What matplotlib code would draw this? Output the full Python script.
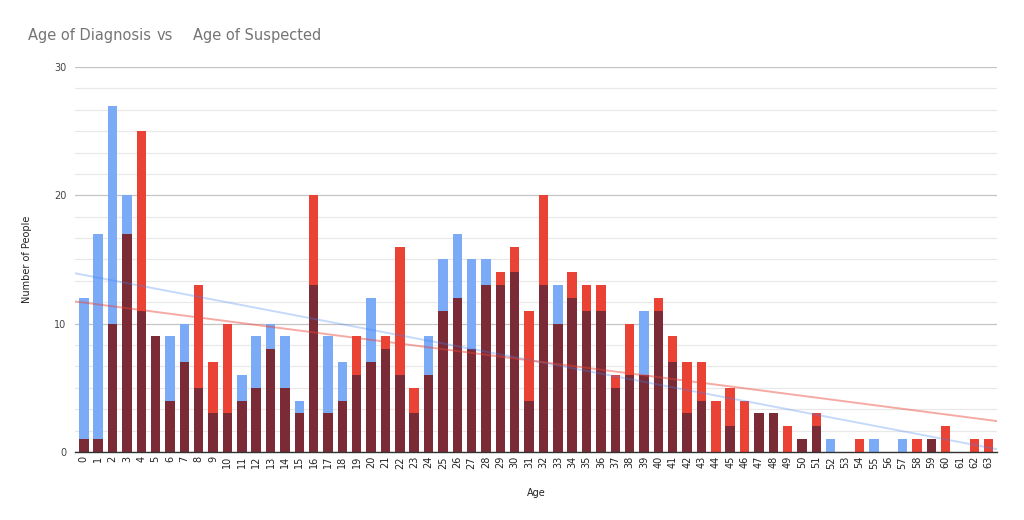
import numpy as np
import matplotlib
matplotlib.use("Agg")
import matplotlib.pyplot as plt
from matplotlib.ticker import MultipleLocator

ages = list(range(64))
diagnosis = [12, 17, 27, 20, 11, 9, 9, 10, 5, 3, 3, 6, 9, 10, 9, 4, 13, 9, 7, 6,
             12, 8, 6, 3, 9, 15, 17, 15, 15, 13, 14, 4, 13, 13, 12, 11, 11, 5, 6, 11,
             11, 7, 3, 4, 0, 2, 0, 3, 3, 0, 1, 2, 1, 0, 0, 1, 0, 1, 0, 1,
             0, 0, 0, 0]
suspected = [1, 1, 10, 17, 25, 9, 4, 7, 13, 7, 10, 4, 5, 8, 5, 3, 20, 3, 4, 9,
             7, 9, 16, 5, 6, 11, 12, 8, 13, 14, 16, 11, 20, 10, 14, 13, 13, 6, 10, 6,
             12, 9, 7, 7, 4, 5, 4, 3, 3, 2, 1, 3, 0, 0, 1, 0, 0, 0, 1, 1,
             2, 0, 1, 1]

title_left = "Age of Diagnosis"
title_mid = "vs"
title_right = "Age of Suspected"
xlabel = "Age"
ylabel = "Number of People"

blue = "#7baaf7"
red = "#ea4335"
dark = "#7a2b35"

x = np.array(ages)
d = np.array(diagnosis)
s = np.array(suspected)
both = np.minimum(d, s)

fig = plt.figure(figsize=(10.24, 5.2), dpi=100)
ax = fig.add_axes([0.073, 0.131, 0.901, 0.740])

w = 0.66
ax.bar(x, d, width=w, color=blue, zorder=2)
ax.bar(x, s, width=w, color=red, zorder=2)
ax.bar(x, both, width=w, color=dark, zorder=3)

# linear trendlines
xx = np.array([-0.63, 63.6])
pd_ = np.polyfit(x, d, 1)
ps_ = np.polyfit(x, s, 1)
ax.plot(xx, np.polyval(pd_, xx), color="#4285f4", alpha=0.3, lw=1.4, zorder=4)
ax.plot(xx, np.polyval(ps_, xx), color="#ea4335", alpha=0.45, lw=1.4, zorder=4)

ax.set_xlim(-0.63, 63.6)
ax.set_ylim(0, 30)
ax.yaxis.set_major_locator(MultipleLocator(10))
ax.yaxis.set_minor_locator(MultipleLocator(10 / 6))
ax.grid(which="major", axis="y", color="#c4c4c4", lw=0.9, zorder=0)
ax.grid(which="minor", axis="y", color="#e8e8e8", lw=0.9, zorder=0)
ax.set_xticks(x)
ax.set_xticklabels([str(a) for a in ages], rotation=90, fontsize=7, color="#222222")
ax.tick_params(axis="y", which="both", length=0, labelsize=7, labelcolor="#444444", pad=6)
ax.tick_params(axis="x", length=0, pad=3)
for sp in ["top", "right", "left"]:
    ax.spines[sp].set_visible(False)
ax.spines["bottom"].set_color("#333333")
ax.spines["bottom"].set_linewidth(1)
ax.spines["bottom"].set_zorder(5)

ax.set_xlabel(xlabel, fontsize=7, color="#222222", labelpad=14)
ax.set_ylabel(ylabel, fontsize=7, color="#222222", labelpad=16)

tc = "#757575"
fig.text(0.027, 0.932, title_left, fontsize=10.5, color=tc, ha="left", va="center")
fig.text(0.161, 0.932, title_mid, fontsize=10.5, color=tc, ha="center", va="center")
fig.text(0.188, 0.932, title_right, fontsize=10.5, color=tc, ha="left", va="center")

fig.savefig("out.png", dpi=100, facecolor="white")
